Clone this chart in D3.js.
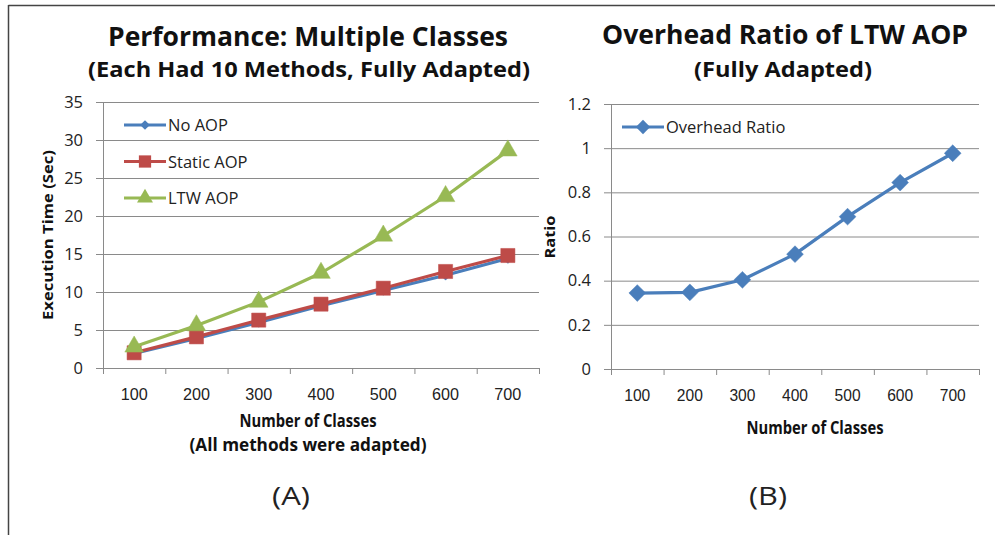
<!DOCTYPE html>
<html>
<head>
<meta charset="utf-8">
<script src="https://cdn.jsdelivr.net/npm/d3@7"></script>
<style>
  body { margin: 0; background: #fff; }
  svg { font-family: "Open Sans", "Noto Sans", sans-serif; }
</style>
</head>
<body>
<div id="chart"></div>
<script>
// categories (number of classes)
const classes = ["100", "200", "300", "400", "500", "600", "700"];

// chart A: execution time in seconds
const noAop     = [1.9, 3.9, 6.0, 8.2, 10.2, 12.2, 14.4];
const staticAop = [2.0, 4.1, 6.3, 8.4, 10.5, 12.7, 14.8];
const ltwAop    = [2.8, 5.6, 8.7, 12.5, 17.4, 22.6, 28.6];
const ticksA = [0, 5, 10, 15, 20, 25, 30, 35];

// chart B: overhead ratio
const overhead = [0.344, 0.347, 0.404, 0.52, 0.69, 0.844, 0.977];
const ticksB = [0, 0.2, 0.4, 0.6, 0.8, 1, 1.2];

const W = 997, H = 535;
const gridColor = "#8a8a8a";
const textColor = "#222";

const svg = d3.select("#chart").append("svg")
  .attr("width", W)
  .attr("height", H);

// frame (top + left only)
svg.append("line").attr("x1", 8.5).attr("x2", 995).attr("y1", 5.5).attr("y2", 5.5)
  .attr("stroke", "#444").attr("stroke-width", 1.5);
svg.append("line").attr("x1", 8.5).attr("x2", 8.5).attr("y1", 5).attr("y2", H)
  .attr("stroke", "#444").attr("stroke-width", 1.5);

function drawPanel(opt) {
  const x = d3.scaleBand().domain(classes).range([opt.left, opt.right]);
  const xEdge = d3.scaleLinear().domain([0, classes.length]).range([opt.left, opt.right]);
  const y = d3.scaleLinear().domain(opt.yDomain).range([opt.bottom, opt.top]);
  const plotW = opt.right - opt.left;

  // gridlines
  svg.append("g")
    .attr("transform", `translate(${opt.left},0)`)
    .call(d3.axisLeft(y).tickValues(opt.yTicks).tickSize(-plotW).tickFormat(""))
    .call(g => g.select(".domain").remove())
    .call(g => g.selectAll("line").attr("stroke", gridColor).attr("stroke-width", 1));

  // y axis with outside tick marks
  svg.append("g")
    .attr("transform", `translate(${opt.left},0)`)
    .call(d3.axisLeft(y).tickValues(opt.yTicks).tickSize(7).tickSizeOuter(0).tickPadding(13)
      .tickFormat(d3.format("")))
    .call(g => g.select(".domain").attr("stroke", gridColor))
    .call(g => g.selectAll("line").attr("stroke", gridColor))
    .call(g => g.selectAll("text")
      .attr("font-size", 16.5).attr("fill", textColor)
      .attr("font-family", "'Open Sans', sans-serif"));

  // x axis: tick marks at band edges
  svg.append("g")
    .attr("transform", `translate(0,${opt.bottom})`)
    .call(d3.axisBottom(xEdge).tickValues(d3.range(classes.length + 1)).tickSize(6).tickSizeOuter(0).tickFormat(""))
    .call(g => g.select(".domain").attr("stroke", gridColor))
    .call(g => g.selectAll("line").attr("stroke", gridColor));

  // x axis labels at band centres
  svg.append("g")
    .attr("transform", `translate(0,${opt.bottom})`)
    .call(d3.axisBottom(x).tickSize(0).tickPadding(0))
    .call(g => g.select(".domain").remove())
    .call(g => g.selectAll("text")
      .attr("dy", null).attr("y", 32)
      .attr("font-size", 16).attr("fill", textColor)
      .attr("textLength", opt.tickLen).attr("lengthAdjust", "spacingAndGlyphs"));

  // series
  opt.series.forEach(s => {
    const line = d3.line().x((d, i) => x(classes[i]) + x.bandwidth() / 2).y(d => y(d));
    svg.append("path")
      .datum(s.values)
      .attr("d", line)
      .attr("fill", "none")
      .attr("stroke", s.color)
      .attr("stroke-width", 3.2)
      .attr("stroke-linejoin", "round");
    svg.append("g").selectAll("path")
      .data(s.values)
      .join("path")
      .attr("transform", (d, i) => `translate(${x(classes[i]) + x.bandwidth() / 2},${y(d)})`)
      .attr("d", d3.symbol().type(s.symbol).size(s.size))
      .attr("fill", s.color)
      .attr("stroke", s.color)
      .attr("stroke-width", 0.5);
  });

  // legend
  opt.series.forEach((s, i) => {
    const ly = opt.legendY + i * opt.legendStep;
    const lg = svg.append("g");
    lg.append("line")
      .attr("x1", opt.legendX).attr("x2", opt.legendX + 42)
      .attr("y1", ly).attr("y2", ly)
      .attr("stroke", s.color).attr("stroke-width", 3.2);
    lg.append("path")
      .attr("transform", `translate(${opt.legendX + 21},${ly})`)
      .attr("d", d3.symbol().type(s.symbol).size(s.legendSize))
      .attr("fill", s.color);
    lg.append("text")
      .attr("x", opt.legendX + 44).attr("y", ly + 6)
      .attr("font-size", 16.5).attr("fill", textColor)
      .text(s.name);
  });
}

drawPanel({
  left: 103, right: 539, top: 102, bottom: 368,
  yDomain: [0, 35], yTicks: ticksA, tickLen: 27,
  legendX: 124, legendY: 125, legendStep: 36.5,
  series: [
    { name: "No AOP", values: noAop, color: "#4a7ebb", symbol: d3.symbolDiamond2, size: 60, legendSize: 60 },
    { name: "Static AOP", values: staticAop, color: "#be4b48", symbol: d3.symbolSquare, size: 200, legendSize: 150 },
    { name: "LTW AOP", values: ltwAop, color: "#98b954", symbol: d3.symbolTriangle, size: 150, legendSize: 110 }
  ]
});

drawPanel({
  left: 611, right: 979, top: 104, bottom: 369,
  yDomain: [0, 1.2], yTicks: ticksB, tickLen: 26,
  legendX: 622, legendY: 127, legendStep: 0,
  series: [
    { name: "Overhead Ratio", values: overhead, color: "#4a7ebb", symbol: d3.symbolDiamond2, size: 180, legendSize: 130 }
  ]
});

// titles and axis labels
function label(txt, x, y, size, weight, len, rotate) {
  const t = svg.append("text")
    .attr("text-anchor", "middle")
    .attr("font-size", size)
    .attr("font-weight", weight)
    .attr("fill", "#111")
    .text(txt);
  if (len) t.attr("textLength", len).attr("lengthAdjust", "spacingAndGlyphs");
  if (rotate) t.attr("transform", `translate(${x},${y}) rotate(-90)`);
  else t.attr("x", x).attr("y", y);
  return t;
}

label("Performance: Multiple Classes", 308, 46, 27, "bold", 400);
label("(Each Had 10 Methods, Fully Adapted)", 309, 77, 21, "bold", 442);
label("Overhead Ratio of LTW AOP", 785, 44, 27, "bold", 366);
label("(Fully Adapted)", 783, 77, 21, "bold", 178);

label("Execution Time (Sec)", 53, 235, 15, "bold", 170, true);
label("Ratio", 555, 237, 15, "bold", 43, true);

label("Number of Classes", 308, 427, 17, "bold", 137);
label("(All methods were adapted)", 308, 451, 17, "bold", 237);
label("Number of Classes", 815, 434, 17, "bold", 137);

label("(A)", 291, 505, 25, "normal", 38).attr("fill", "#222");
label("(B)", 768, 505, 25, "normal", 38).attr("fill", "#222");
</script>
</body>
</html>
